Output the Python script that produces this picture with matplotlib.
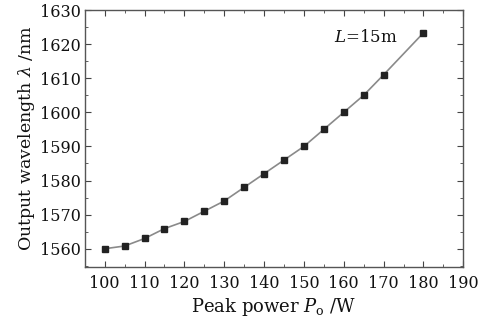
import numpy as np
import matplotlib
matplotlib.use('agg')
import matplotlib.pyplot as plt
from matplotlib.ticker import MultipleLocator

# peak power (W) and output wavelength (nm)
power = [100, 105, 110, 115, 120, 125, 130, 135, 140, 145, 150, 155, 160, 165, 170, 180]
wavelength = [1560.0, 1560.8, 1563.0, 1565.9, 1568.0, 1571.0, 1574.0, 1578.0,
              1582.0, 1586.0, 1590.0, 1595.0, 1600.0, 1605.0, 1611.0, 1623.3]

plt.rcParams['font.family'] = ['DejaVu Serif']
plt.rcParams['mathtext.fontset'] = 'dejavuserif'

fig = plt.figure(figsize=(4.96, 3.23), dpi=100)
ax = fig.add_axes([0.171, 0.174, 0.763, 0.795])

ax.plot(power, wavelength, '-', color='#8a8a8a', lw=1.2, zorder=1)
ax.plot(power, wavelength, 's', color='#222222', ms=4, zorder=2)

ax.set_xlim(95, 190)
ax.set_ylim(1554.7, 1630)
ax.xaxis.set_major_locator(MultipleLocator(10))
ax.xaxis.set_minor_locator(MultipleLocator(5))
ax.yaxis.set_major_locator(MultipleLocator(10))
ax.yaxis.set_minor_locator(MultipleLocator(5))
ax.tick_params(which='both', direction='in', top=True, right=True,
               color='#444444', labelsize=11.5, labelcolor='#111111')
ax.tick_params(axis='x', pad=6)
ax.tick_params(axis='y', pad=3)
ax.tick_params(which='major', length=4)
ax.tick_params(which='minor', length=2)
for s in ax.spines.values():
    s.set_color('#555555')
    s.set_linewidth(1.0)

ax.set_xlabel(r'Peak power $P_\mathrm{o}$ /W', fontsize=13, labelpad=3, color='#111111')
ax.set_ylabel(r'Output wavelength $\lambda$ /nm', fontsize=12.5, labelpad=2, color='#111111')
ax.text(157.5, 1621.8, r'$L$=15m', fontsize=12, va='center', ha='left', color='#111111')

plt.savefig('out.png', dpi=100)
